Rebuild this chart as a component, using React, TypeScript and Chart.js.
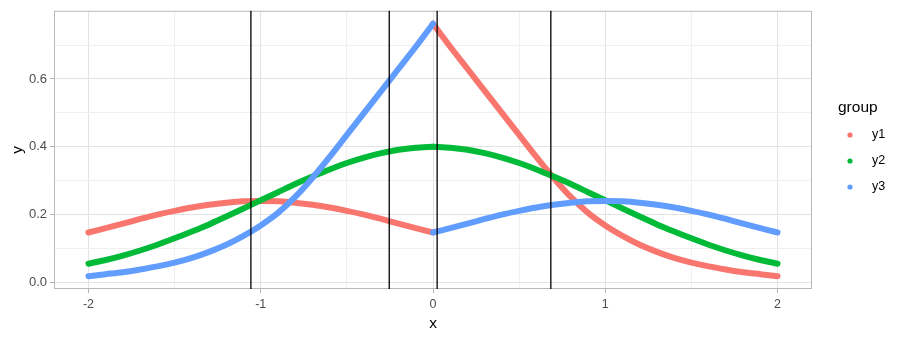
import React, { useEffect, useRef } from "react";
import { Chart, registerables } from "chart.js";

Chart.register(...registerables);

const xLeft = [-2, -1.9, -1.8, -1.7, -1.6, -1.5, -1.4, -1.3, -1.2, -1.1, -1, -0.9, -0.8, -0.7, -0.6, -0.5, -0.4, -0.3, -0.2, -0.1, 0];
const xRight = [0, 0.1, 0.2, 0.3, 0.4, 0.5, 0.6, 0.7, 0.8, 0.9, 1, 1.1, 1.2, 1.3, 1.4, 1.5, 1.6, 1.7, 1.8, 1.9, 2];

const y1Left = [0.147, 0.16, 0.173, 0.187, 0.2, 0.211, 0.221, 0.229, 0.235, 0.239, 0.24, 0.239, 0.235, 0.229, 0.221, 0.211, 0.2, 0.187, 0.173, 0.16, 0.147];
const y1Right = [0.763, 0.695, 0.63, 0.565, 0.5, 0.435, 0.37, 0.308, 0.252, 0.205, 0.168, 0.137, 0.111, 0.09, 0.072, 0.058, 0.047, 0.038, 0.03, 0.024, 0.018];
const y2Left = [0.055, 0.066, 0.079, 0.094, 0.111, 0.13, 0.15, 0.171, 0.194, 0.218, 0.242, 0.266, 0.29, 0.312, 0.333, 0.352, 0.368, 0.381, 0.391, 0.397, 0.4];
const y2Right = [0.4, 0.397, 0.391, 0.381, 0.368, 0.352, 0.333, 0.312, 0.29, 0.266, 0.242, 0.218, 0.194, 0.171, 0.15, 0.13, 0.111, 0.094, 0.079, 0.066, 0.055];
const y3Left = [0.018, 0.024, 0.03, 0.038, 0.047, 0.058, 0.072, 0.09, 0.111, 0.137, 0.168, 0.205, 0.252, 0.308, 0.37, 0.435, 0.5, 0.565, 0.63, 0.695, 0.763];
const y3Right = [0.147, 0.16, 0.173, 0.187, 0.2, 0.211, 0.221, 0.229, 0.235, 0.239, 0.24, 0.239, 0.235, 0.229, 0.221, 0.211, 0.2, 0.187, 0.173, 0.16, 0.147];

const vLines = [-1.057, -0.254, 0.024, 0.684];

const groups = ["y1", "y2", "y3"];
const colors = ["#F8766D", "#00BA38", "#619CFF"];

const xTickValues = [-2, -1.5, -1, -0.5, 0, 0.5, 1, 1.5, 2];
const xTickLabels = ["-2", "", "-1", "", "0", "", "1", "", "2"];
const yTickValues = [0, 0.1, 0.2, 0.3, 0.4, 0.5, 0.6, 0.7];
const yTickLabels = ["0.0", "", "0.2", "", "0.4", "", "0.6", ""];

const FONT = "'Liberation Sans', Arial, sans-serif";

function pts(xs: number[], ys: number[]) {
  return xs.map((x, i) => ({ x, y: ys[i] }));
}

export default function App() {
  const ref = useRef<HTMLCanvasElement | null>(null);
  useEffect(() => {
    if (!ref.current) return;
    const series = [
      [y1Left, y1Right],
      [y2Left, y2Right],
      [y3Left, y3Right],
    ];
    const datasets: any[] = [];
    series.forEach((s, gi) => {
      [pts(xLeft, s[0]), pts(xRight, s[1])].forEach((d) => {
        datasets.push({
          label: groups[gi],
          data: d,
          borderColor: colors[gi],
          backgroundColor: colors[gi],
          borderWidth: 6,
          borderCapStyle: "round",
          borderJoinStyle: "round",
          pointRadius: 0,
          tension: 0.3,
          order: 2 - gi,
        });
      });
    });

    const panelPlugin = {
      id: "panel",
      beforeDatasetsDraw(chart: any) {
        const { ctx, chartArea: a } = chart;
        ctx.save();
        ctx.strokeStyle = "#b8b8b8";
        ctx.lineWidth = 1;
        ctx.strokeRect(a.left + 0.5, a.top + 0.5, a.right - a.left - 1, a.bottom - a.top - 1);
        ctx.restore();
      },
      afterDatasetsDraw(chart: any) {
        const { ctx, chartArea: a } = chart;
        const xs = chart.scales.x;
        ctx.save();
        ctx.strokeStyle = "#000000";
        ctx.lineWidth = 1.3;
        vLines.forEach((v) => {
          const px = xs.getPixelForValue(v);
          ctx.beginPath();
          ctx.moveTo(px, a.top);
          ctx.lineTo(px, a.bottom);
          ctx.stroke();
        });
        ctx.restore();
      },
      afterDraw(chart: any) {
        const { ctx } = chart;
        ctx.save();
        ctx.fillStyle = "#000000";
        ctx.font = `15.5px ${FONT}`;
        ctx.textBaseline = "alphabetic";
        ctx.textAlign = "left";
        ctx.fillText("group", 838, 111.5);
        ctx.font = `12.5px ${FONT}`;
        ctx.textBaseline = "middle";
        groups.forEach((g, i) => {
          const cy = 135 + i * 26;
          ctx.beginPath();
          ctx.fillStyle = colors[i];
          ctx.arc(850, cy, 2.6, 0, Math.PI * 2);
          ctx.fill();
          ctx.fillStyle = "#000000";
          ctx.fillText(g, 872, cy);
        });
        ctx.restore();
      },
    };

    const chart = new Chart(ref.current, {
      type: "line",
      data: { datasets },
      options: {
        animation: false,
        responsive: false,
        devicePixelRatio: 1,
        parsing: true,
        layout: { padding: { top: 8, right: 91, left: 0, bottom: 0 } },
        plugins: { legend: { display: false }, tooltip: { enabled: false } },
        scales: {
          x: {
            type: "linear",
            min: -2.2,
            max: 2.2,
            afterFit: (s: any) => {
              s.height = 50;
            },
            afterBuildTicks: (s: any) => {
              s.ticks = xTickValues.map((v) => ({ value: v }));
            },
            border: { display: false },
            grid: {
              color: (c: any) => (c.tick && xTickLabels[xTickValues.indexOf(c.tick.value)] === "" ? "#f0f0f0" : "#e3e3e3"),
              tickColor: (c: any) => (c.tick && xTickLabels[xTickValues.indexOf(c.tick.value)] === "" ? "rgba(0,0,0,0)" : "#b3b3b3"),
              tickLength: 4,
              lineWidth: 1,
            },
            ticks: {
              autoSkip: false,
              maxRotation: 0,
              padding: 4,
              color: "#4d4d4d",
              font: { family: FONT, size: 12.5 },
              callback: (v: any) => {
                const i = xTickValues.indexOf(Number(v));
                return i >= 0 ? xTickLabels[i] : "";
              },
            },
            title: {
              display: true,
              text: "x",
              color: "#000000",
              font: { family: FONT, size: 15.5 },
              padding: { top: 0, bottom: 6 },
            },
          },
          y: {
            type: "linear",
            min: -0.0196,
            max: 0.801,
            afterFit: (s: any) => {
              s.width = 54;
            },
            afterBuildTicks: (s: any) => {
              s.ticks = yTickValues.map((v) => ({ value: v }));
            },
            border: { display: false },
            grid: {
              color: (c: any) => (c.tick && yTickLabels[yTickValues.indexOf(c.tick.value)] === "" ? "#f0f0f0" : "#e3e3e3"),
              tickColor: (c: any) => (c.tick && yTickLabels[yTickValues.indexOf(c.tick.value)] === "" ? "rgba(0,0,0,0)" : "#b3b3b3"),
              tickLength: 4,
              lineWidth: 1,
            },
            ticks: {
              autoSkip: false,
              padding: 3,
              color: "#4d4d4d",
              font: { family: FONT, size: 13 },
              callback: (v: any) => {
                const i = yTickValues.indexOf(Number(v));
                return i >= 0 ? yTickLabels[i] : "";
              },
            },
            title: {
              display: true,
              text: "y",
              color: "#000000",
              font: { family: FONT, size: 15.5 },
              padding: { top: 8, bottom: 0 },
            },
          },
        },
      },
      plugins: [panelPlugin],
    });
    return () => chart.destroy();
  }, []);

  return (
    <div style={{ position: "absolute", left: 0, top: 0, width: 903, height: 339, background: "#ffffff" }}>
      <canvas ref={ref} width={903} height={339} style={{ width: 903, height: 339, display: "block" }} />
    </div>
  );
}
